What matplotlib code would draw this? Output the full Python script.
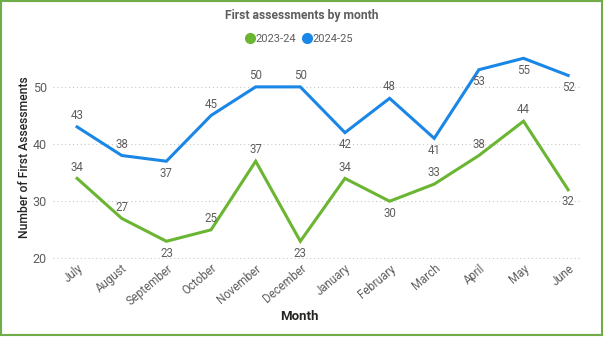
import matplotlib
matplotlib.use("Agg")
import matplotlib.pyplot as plt
import matplotlib.transforms as mtransforms
from matplotlib.patches import Rectangle
from matplotlib.lines import Line2D

months = ["July", "August", "September", "October", "November", "December",
          "January", "February", "March", "April", "May", "June"]
s2023 = [34, 27, 23, 25, 37, 23, 34, 30, 33, 38, 44, 32]
s2024 = [43, 38, 37, 45, 50, 50, 42, 48, 41, 53, 55, 52]
series_names = ["2023-24", "2024-25"]
yticks = [20, 30, 40, 50]

# label placement: 1 above, -1 below
pos2023 = [1, 1, -1, 1, 1, -1, 1, -1, 1, 1, 1, -1]
pos2024 = [1, 1, -1, 1, 1, 1, -1, 1, -1, -1, -1, -1]

green = "#6AB531"
blue = "#1A86E6"
gray = "#605E5C"

plt.rcParams['font.family'] = ['Roboto', 'DejaVu Sans']

fig = plt.figure(figsize=(6.04, 3.37), dpi=100)
fig.patch.set_facecolor("white")
ax = fig.add_axes([53/604, 78/337, (582-53)/604, (259-52)/337])

x = list(range(len(months)))
ax.plot(x, s2023, color=green, lw=2.2, solid_joinstyle='miter', zorder=3)
ax.plot(x, s2024, color=blue, lw=2.2, solid_joinstyle='miter', zorder=3)

for xs, vals, ps in [(x, s2023, pos2023), (x, s2024, pos2024)]:
    for xi, v, p in zip(xs, vals, ps):
        off = 3.5 if p > 0 else -4
        ax.annotate(str(v), (xi, v), xytext=(0, off), textcoords="offset points",
                    ha="center", va="bottom" if p > 0 else "top",
                    fontsize=8.3, color=gray, zorder=4)

ax.set_xlim(-0.54, 11.31)
ax.set_ylim(19.9, 56.1)
ax.set_yticks(yticks)
ax.set_yticklabels([str(t) for t in yticks], fontsize=9, color=gray)
ax.set_xticks(x)
ax.set_xticklabels(months, rotation=40, ha="right", va="top", rotation_mode="anchor",
                   fontsize=8.3, color=gray)
shift = mtransforms.ScaledTranslation(-10/72, 0, fig.dpi_scale_trans)
for lbl in ax.get_xticklabels():
    lbl.set_transform(lbl.get_transform() + shift)
ax.tick_params(axis="both", length=0)
ax.tick_params(axis="x", pad=2)
ax.tick_params(axis="y", pad=4.5)
for sp in ax.spines.values():
    sp.set_visible(False)
ax.grid(axis="y", color="#C8C8C8", linestyle=(0, (1, 2.5)), lw=0.8)
ax.set_axisbelow(True)

ax.set_ylabel("Number of First Assessments", fontsize=8.7, color="#252423",
              fontweight="medium")
ax.yaxis.set_label_coords((25 - 53) / 529, 0.49)
ax.yaxis.label.set_va("center")
ax.set_xlabel("Month", fontsize=9.5, color="#252423", fontweight="bold")
ax.xaxis.set_label_coords((299 - 53) / 529, -(317 - 259) / 207)
ax.xaxis.label.set_va("center")

fig.text(0.5, 1 - 16/337, "First assessments by month", ha="center", va="center",
         fontsize=8.7, fontweight="bold", color=gray)

handles = [Line2D([], [], marker="o", linestyle="none", markersize=7, color=green),
           Line2D([], [], marker="o", linestyle="none", markersize=7, color=blue)]
fig.legend(handles, series_names, loc="center", bbox_to_anchor=(299/604, 1 - 39/337),
           ncol=2, frameon=False, fontsize=8, handletextpad=0.0, columnspacing=0.5,
           labelcolor=gray, handlelength=1.0)

fig.add_artist(Rectangle((0.8/604, 2/337), 601.5/604, 334/337, transform=fig.transFigure,
                         fill=False, edgecolor="#70AD47", lw=1.5))

fig.savefig("out.png", dpi=100, facecolor="white")
